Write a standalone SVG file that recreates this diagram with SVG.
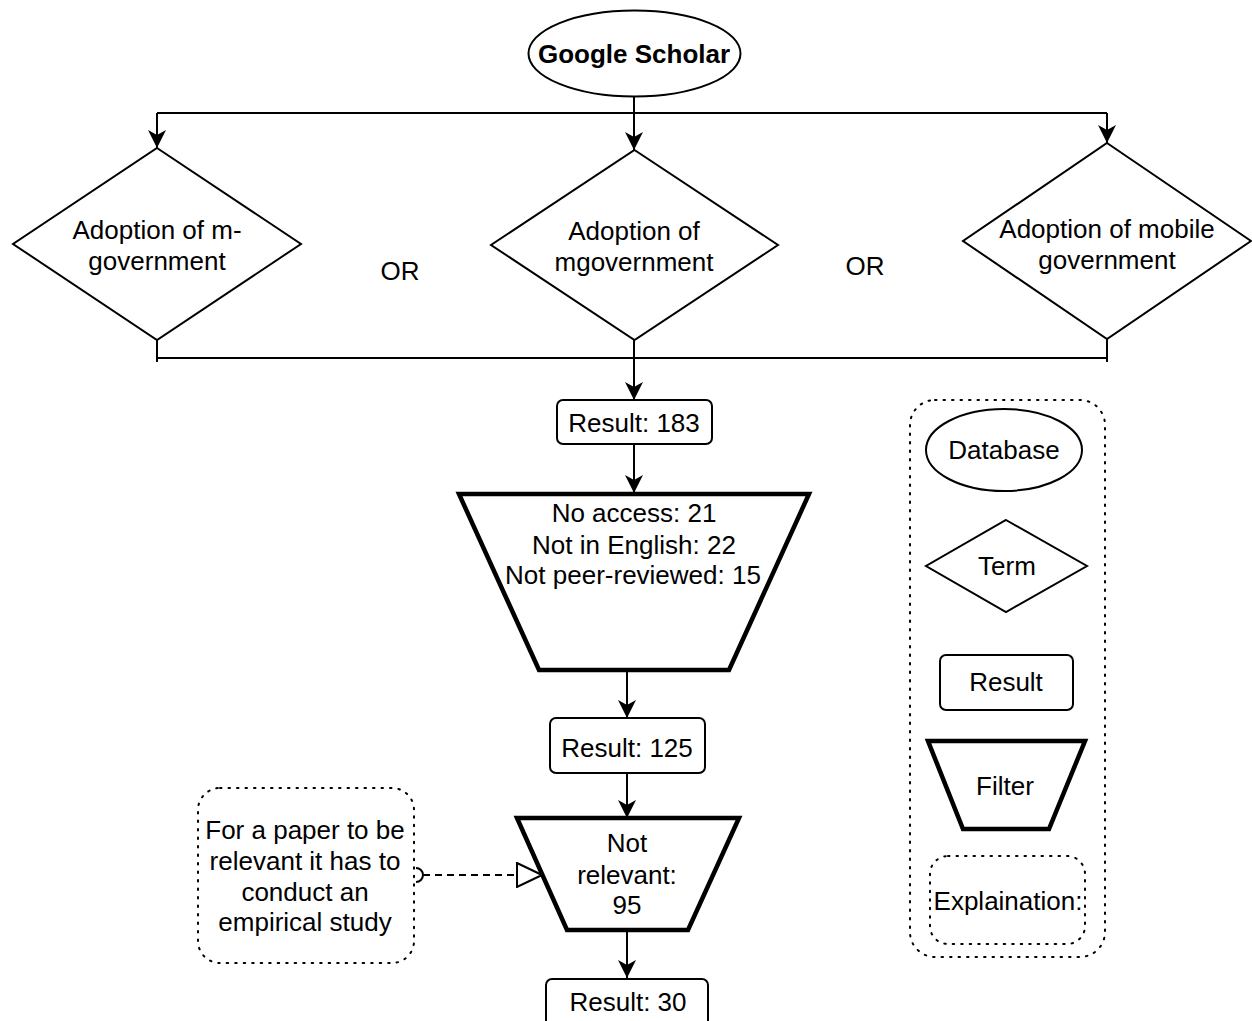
<svg xmlns="http://www.w3.org/2000/svg" width="1252" height="1021" viewBox="0 0 1252 1021">
<style>
text{font-family:"Liberation Sans",Arial,sans-serif;font-size:26px;fill:#000;text-anchor:middle}
.b{font-weight:bold}
.s{fill:#fff;stroke:#000;stroke-width:2}
.f{fill:#fff;stroke:#000;stroke-width:4.5}
.d{fill:none;stroke:#000;stroke-width:2;stroke-dasharray:1.5 7;stroke-linecap:round}
.c{fill:none;stroke:#000;stroke-width:2}
</style>
<defs>
<marker id="a" viewBox="0 0 18 18" refX="18" refY="9" markerWidth="18" markerHeight="18" markerUnits="userSpaceOnUse" orient="auto">
<path d="M0,0 L18,9 L0,18 L5,9 z" fill="#000"/>
</marker>
<marker id="t" viewBox="0 0 27 26" refX="26" refY="13" markerWidth="27" markerHeight="26" markerUnits="userSpaceOnUse" orient="auto">
<path d="M1,1 L26,13 L1,25 z" fill="#fff" stroke="#000" stroke-width="2"/>
</marker>
</defs>
<rect width="1252" height="1021" fill="#fff"/>
<g id="connectors">
<path class="c" d="M634,97 V150" marker-end="url(#a)"/>
<path class="c" d="M157,113 H1107"/>
<path class="c" d="M157,113 V148" marker-end="url(#a)"/>
<path class="c" d="M1107,113 V143" marker-end="url(#a)"/>
<path class="c" d="M157,340 V362 M1107,339 V362 M157,358 H1107"/>
<path class="c" d="M634,340 V400" marker-end="url(#a)"/>
<path class="c" d="M634,444 V493" marker-end="url(#a)"/>
<path class="c" d="M627,663 V718" marker-end="url(#a)"/>
<path class="c" d="M627,773 V818" marker-end="url(#a)"/>
<path class="c" d="M627,930 V978" marker-end="url(#a)"/>
<path class="c" d="M416,868 A7,7 0 0 1 416,882"/>
<path d="M423,875 H542" fill="none" stroke="#000" stroke-width="2" stroke-dasharray="7 5" marker-end="url(#t)"/>
</g>
<g id="google-scholar">
<ellipse class="s" cx="634.5" cy="53.5" rx="106" ry="43"/>
<text class="b" x="634" y="63">Google Scholar</text>
</g>
<g id="term-1">
<polygon class="s" points="157,148 301,244 157,340 13,244"/>
<text x="157" y="239">Adoption of m-</text>
<text x="157" y="270">government</text>
</g>
<g id="term-2">
<polygon class="s" points="634.5,150 778,245 634.5,340 491,245"/>
<text x="634" y="240">Adoption of</text>
<text x="634" y="271">mgovernment</text>
</g>
<g id="term-3">
<polygon class="s" points="1107,143 1251,241 1107,339 963,241"/>
<text x="1107" y="238">Adoption of mobile</text>
<text x="1107" y="269">government</text>
</g>
<g id="or-1"><text x="400" y="280">OR</text></g>
<g id="or-2"><text x="865" y="275">OR</text></g>
<g id="result-183">
<rect class="s" x="557" y="400" width="155" height="44" rx="6"/>
<text x="634" y="432">Result: 183</text>
</g>
<g id="filter-1">
<polygon class="f" points="459,494 809,494 729,670 539,670"/>
<text x="634" y="522">No access: 21</text>
<text x="634" y="554">Not in English: 22</text>
<text x="633" y="584">Not peer-reviewed: 15</text>
</g>
<g id="result-125">
<rect class="s" x="550" y="718" width="155" height="55" rx="6"/>
<text x="627" y="757">Result: 125</text>
</g>
<g id="filter-2">
<polygon class="f" points="517,818 739,818 688,930 567,930"/>
<text x="627" y="852">Not</text>
<text x="627" y="884">relevant:</text>
<text x="627" y="914">95</text>
</g>
<g id="result-30">
<rect class="s" x="546" y="979" width="162" height="55" rx="6"/>
<text x="628" y="1011">Result: 30</text>
</g>
<g id="note">
<rect class="d" x="198" y="788" width="216" height="175" rx="22"/>
<text x="305" y="839">For a paper to be</text>
<text x="305" y="870">relevant it has to</text>
<text x="305" y="901">conduct an</text>
<text x="305" y="931">empirical study</text>
</g>
<g id="legend">
<rect class="d" x="910" y="400" width="195" height="557" rx="25"/>
<g id="legend-database">
<ellipse class="s" cx="1004" cy="450" rx="78" ry="41"/>
<text x="1004" y="459">Database</text>
</g>
<g id="legend-term">
<polygon class="s" points="1006,520 1087,566 1006,612 926,566"/>
<text x="1007" y="575">Term</text>
</g>
<g id="legend-result">
<rect class="s" x="940" y="655" width="133" height="55" rx="6"/>
<text x="1006" y="691">Result</text>
</g>
<g id="legend-filter">
<polygon class="f" points="928,741 1085,741 1049,829 963,829"/>
<text x="1005" y="795">Filter</text>
</g>
<g id="legend-explanation">
<rect class="d" x="930" y="856" width="155" height="88" rx="18"/>
<text x="1008" y="910">Explaination:</text>
</g>
</g>
</svg>
